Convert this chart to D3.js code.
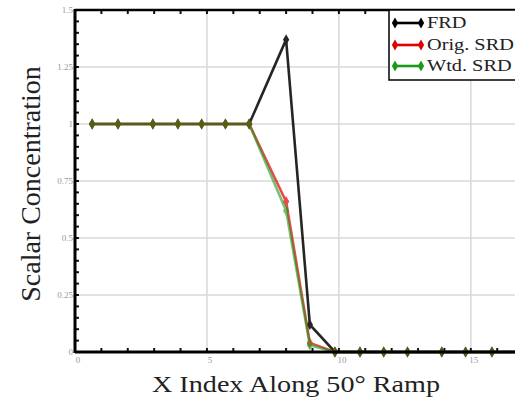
<!DOCTYPE html>
<html>
<head>
<meta charset="utf-8">
<script src="https://cdn.jsdelivr.net/npm/d3@7"></script>
<style>
  body { margin: 0; background: #fff; }
  svg { display: block; }
</style>
</head>
<body>
<svg id="chart" width="515" height="398"></svg>
<script>
// Data
const xIdx = [0.65, 1.63, 2.95, 3.9, 4.8, 5.7, 6.6, 8.0, 8.9, 9.85, 10.8, 11.7, 12.6, 13.9, 14.8, 15.8, 16.8];
const frd     = [1, 1, 1, 1, 1, 1, 1, 1.37, 0.12, 0, 0, 0, 0, 0, 0, 0, 0];
const origSrd = [1, 1, 1, 1, 1, 1, 1, 0.66, 0.04, 0, 0, 0, 0, 0, 0, 0, 0];
const wtdSrd  = [1, 1, 1, 1, 1, 1, 1, 0.62, 0.03, 0, 0, 0, 0, 0, 0, 0, 0];
const seriesNames = ['FRD', 'Orig. SRD', 'Wtd. SRD'];
const seriesColors = ['#000000', '#e00000', '#1a9a1a'];
const seriesOpacity = [0.85, 0.7, 0.6];
const xTicks = [0, 5, 10, 15];
const yTicks = [0, 0.25, 0.5, 0.75, 1, 1.25, 1.5];

const svg = d3.select('#chart');
const plotLeft = 75, plotRight = 517, plotTop = 10, plotBottom = 352;
const serif = 'Liberation Serif, Times New Roman, serif';

const x = d3.scaleLinear().domain([0, 16.75]).range([plotLeft, plotRight]);
const y = d3.scaleLinear().domain([0, 1.5]).range([plotBottom, plotTop]);

// Grid
svg.append('g').selectAll('line')
    .data(xTicks.filter(d => d > 0))
    .enter().append('line')
    .attr('x1', d => x(d)).attr('x2', d => x(d))
    .attr('y1', plotTop).attr('y2', plotBottom)
    .attr('stroke', '#d8d8d8').attr('stroke-width', 1.5);

svg.append('g').selectAll('line')
    .data(yTicks.filter(d => d > 0 && d < 1.5))
    .enter().append('line')
    .attr('x1', plotLeft).attr('x2', plotRight)
    .attr('y1', d => y(d)).attr('y2', d => y(d))
    .attr('stroke', '#d8d8d8').attr('stroke-width', 1.5);

// Minor ticks (inward)
const xMinor = d3.range(1, 17);
const yMinor = d3.range(0.05, 1.5, 0.05);
const ticks = svg.append('g').attr('stroke', '#111').attr('stroke-width', 2);
ticks.append('g').selectAll('line').data(xMinor).enter().append('line')
    .attr('x1', d => x(d)).attr('x2', d => x(d))
    .attr('y1', plotBottom).attr('y2', plotBottom - 4);
ticks.append('g').selectAll('line').data(xMinor).enter().append('line')
    .attr('x1', d => x(d)).attr('x2', d => x(d))
    .attr('y1', plotTop).attr('y2', plotTop + 4);
ticks.append('g').selectAll('line').data(yMinor).enter().append('line')
    .attr('x1', plotLeft).attr('x2', plotLeft + 4)
    .attr('y1', d => y(d)).attr('y2', d => y(d));

// Tick labels
svg.append('g').selectAll('text')
    .data(yTicks).enter().append('text')
    .attr('x', plotLeft - 2).attr('y', d => y(d) + 3)
    .attr('text-anchor', 'end')
    .attr('font-family', serif).attr('font-size', 9)
    .attr('fill', '#999')
    .text(d => d);

svg.append('g').selectAll('text')
    .data(xTicks).enter().append('text')
    .attr('x', d => x(d) + 3).attr('y', plotBottom + 11)
    .attr('text-anchor', 'middle')
    .attr('font-family', serif).attr('font-size', 9)
    .attr('fill', '#999')
    .text(d => d);

// Series
const allSeries = [frd, origSrd, wtdSrd];
const line = d3.line().x((d, i) => x(xIdx[i])).y(d => y(d));
const diamond = d3.symbol().type(d3.symbolDiamond).size(34);

allSeries.forEach((vals, k) => {
    const g = svg.append('g').attr('opacity', seriesOpacity[k]);
    g.append('path')
        .datum(vals)
        .attr('d', line)
        .attr('fill', 'none')
        .attr('stroke', seriesColors[k])
        .attr('stroke-width', 2.6);
    g.selectAll('path.m')
        .data(vals).enter().append('path')
        .attr('class', 'm')
        .attr('transform', (d, i) => `translate(${x(xIdx[i])},${y(d)})`)
        .attr('d', diamond)
        .attr('fill', seriesColors[k]);
});

// Frame
svg.append('line').attr('x1', plotLeft).attr('x2', plotLeft).attr('y1', plotTop - 1).attr('y2', plotBottom + 1)
    .attr('stroke', '#000').attr('stroke-width', 3);
svg.append('line').attr('x1', plotLeft).attr('x2', 515).attr('y1', plotBottom).attr('y2', plotBottom)
    .attr('stroke', '#000').attr('stroke-width', 3);
svg.append('line').attr('x1', plotLeft).attr('x2', 515).attr('y1', plotTop).attr('y2', plotTop)
    .attr('stroke', '#000').attr('stroke-width', 2.5);

// Legend
const lg = svg.append('g');
lg.append('rect')
    .attr('x', 389).attr('y', 10).attr('width', 140).attr('height', 70)
    .attr('fill', '#fff').attr('stroke', '#000').attr('stroke-width', 1.5);
const legendY = [23, 45, 66];
seriesNames.forEach((name, k) => {
    const ly = legendY[k];
    lg.append('line')
        .attr('x1', 395).attr('x2', 421).attr('y1', ly).attr('y2', ly)
        .attr('stroke', seriesColors[k]).attr('stroke-width', 2.6);
    [395, 421].forEach(px => {
        lg.append('path')
            .attr('transform', `translate(${px},${ly})`)
            .attr('d', diamond)
            .attr('fill', seriesColors[k]);
    });
    lg.append('text')
        .attr('transform', `translate(427,${ly + 5}) scale(1.27,1)`)
        .attr('font-family', serif).attr('font-size', 16)
        .attr('fill', '#222')
        .text(name);
});

// Axis titles
svg.append('text')
    .attr('transform', 'translate(40,184) rotate(-90)')
    .attr('text-anchor', 'middle')
    .attr('font-family', serif).attr('font-size', 28)
    .attr('fill', '#222')
    .text('Scalar Concentration');

svg.append('text')
    .attr('x', 152).attr('y', 392)
    .attr('textLength', 288).attr('lengthAdjust', 'spacingAndGlyphs')
    .attr('font-family', serif).attr('font-size', 24)
    .attr('fill', '#222')
    .text('X Index Along 50° Ramp');
</script>
</body>
</html>
